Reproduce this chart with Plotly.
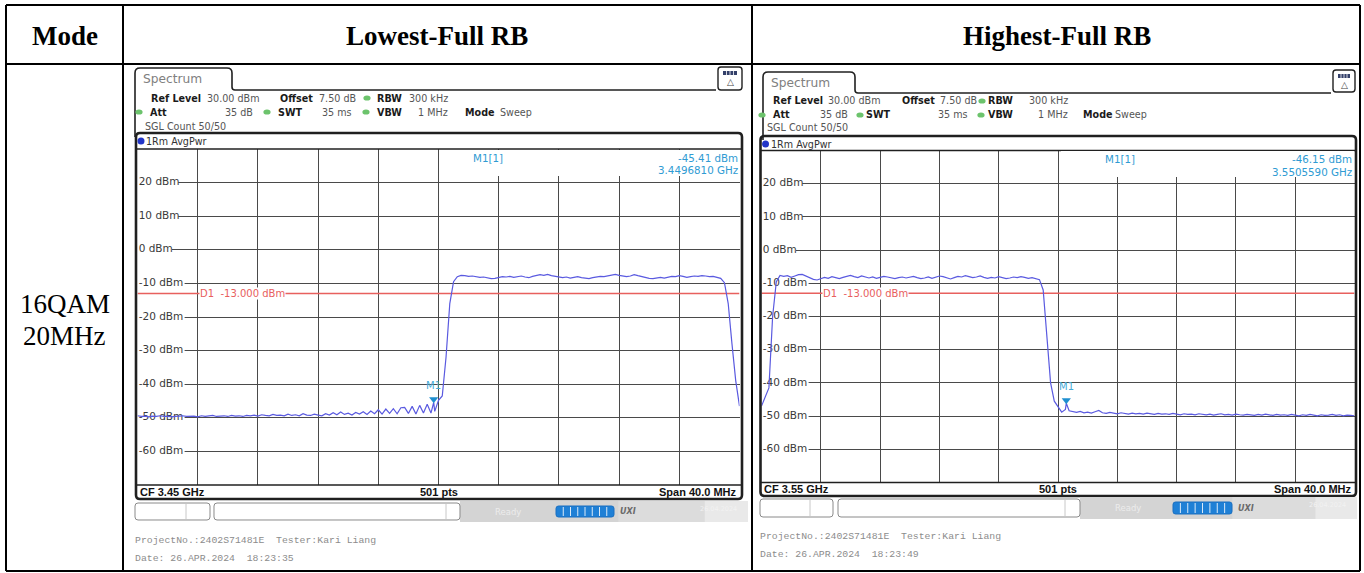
import plotly.graph_objects as go

W, H = 1364, 573

# ---------------- measurement data ----------------
column_titles = ["Mode", "Lowest-Full RB", "Highest-Full RB"]
mode_lines = ["16QAM", "20MHz"]

center_ghz = [3.45, 3.55]
span_mhz = 40.0
sweep_points = 501
ref_level_dbm = 30.0
offset_db = 7.50
att_db = 35
swt_ms = 35
rbw_text = "300 kHz"
vbw_text = "1 MHz"
sweep_count = "50/50"
limit_dbm = -13.0
level_ticks_dbm = [20, 10, 0, -10, -20, -30, -40, -50, -60]

# trace samples every 0.25 MHz across the 40 MHz span (161 bins)
trace_step_mhz = 0.25
lowest_dbm = [
    -49.4, -49.6, -49.5, -49.7, -49.5, -49.6, -49.4, -49.6, -49.5, -49.7,
    -49.6, -49.5, -49.4, -49.6, -49.5, -49.5, -49.7, -49.4, -49.6, -49.5,
    -49.3, -49.6, -49.5, -49.4, -49.6, -49.3, -49.5, -49.4, -49.6, -49.3,
    -49.4, -49.2, -49.5, -49.1, -49.3, -49.4, -49.0, -49.3, -49.2, -49.4,
    -48.9, -49.3, -49.1, -49.4, -48.8, -49.2, -49.3, -48.9, -49.2, -49.4,
    -48.8, -49.2, -48.5, -49.1, -48.3, -49.0, -48.6, -49.2, -48.4, -48.9,
    -48.2, -49.0, -48.0, -48.8, -47.6, -48.9, -47.4, -48.7, -47.3, -48.8,
    -47.0, -46.9, -48.7, -46.6, -48.9, -46.3, -48.6, -46.0, -48.6, -48.1,
    -44.8, -43.5, -32.0, -16.0, -9.5, -8.0,
    -7.6, -7.7, -7.9, -7.8, -8.0, -8.2, -8.1, -8.4, -8.6, -8.5,
    -8.3, -8.0, -8.1, -7.9, -8.2, -8.0, -7.8, -8.1, -8.3, -7.9,
    -7.6, -7.4, -7.6, -7.3, -7.7, -7.9, -8.0, -8.3, -8.1, -8.4,
    -8.2, -8.0, -8.3, -8.5, -8.6, -8.3, -8.1, -7.9, -8.0, -7.7,
    -7.5, -7.3, -7.6, -7.9, -8.0, -7.8, -7.4, -7.7, -8.0, -8.3,
    -8.5, -8.6, -8.4, -8.2, -8.4, -8.1, -7.9, -8.0, -7.7, -7.9,
    -8.2, -8.0, -7.8, -7.9, -7.7, -7.8, -8.0, -7.9, -8.1, -8.5,
    -9.8, -16.0, -28.0, -39.0, -46.5,
]
highest_dbm = [
    -47.0, -44.5, -41.5, -20.0, -9.5,
    -7.6, -7.9, -7.7, -8.2, -7.8, -7.4, -7.3, -7.8, -8.3, -8.8,
    -9.0, -8.6, -8.2, -8.5, -8.0, -8.3, -8.6, -8.2, -7.9, -7.6,
    -8.0, -8.3, -7.8, -8.2, -8.4, -8.1, -8.5, -8.2, -7.9, -8.1,
    -8.4, -8.6, -8.3, -8.1, -8.4, -8.2, -7.9, -8.3, -8.6, -8.4,
    -8.1, -8.5, -8.2, -7.8, -8.0, -8.4, -8.7, -8.3, -7.9, -8.1,
    -7.7, -8.0, -8.3, -8.1, -7.8, -8.2, -8.5, -8.2, -8.4, -8.0,
    -8.3, -8.6, -8.4, -8.1, -8.3, -8.0, -8.2, -8.5, -8.3, -8.6,
    -8.9,
    -12.0, -27.0, -40.0, -45.5, -47.2, -48.8, -48.0, -48.4,
    -48.7, -48.9, -48.6, -49.0, -48.8, -49.1, -48.7, -48.3, -49.0, -49.2,
    -48.9, -49.1, -49.3, -49.0, -49.2, -49.4, -49.1, -49.3, -49.2, -49.4,
    -49.1, -49.3, -49.5, -49.2, -49.4, -49.3, -49.5, -49.2, -49.4, -49.6,
    -49.3, -49.5, -49.4, -49.6, -49.3, -49.5, -49.6, -49.4, -49.7, -49.5,
    -49.3, -49.6, -49.5, -49.7, -49.4, -49.6, -49.7, -49.5, -49.6, -49.8,
    -49.5, -49.7, -49.4, -49.6, -49.8, -49.5, -49.7, -49.6, -49.8, -49.5,
    -49.7, -49.9, -49.6, -49.8, -49.5, -49.7, -49.9, -49.6, -49.8, -49.7,
    -49.5, -49.8, -49.6, -49.9, -49.7, -49.8, -49.9,
]

marker_ghz = [3.4496810, 3.5505590]
marker_dbm = [-45.41, -46.15]

project_text = "ProjectNo.:2402S71481E  Tester:Kari Liang"
date_text = ["Date: 26.APR.2024  18:23:35", "Date: 26.APR.2024  18:23:49"]

# ---------------- styling ----------------
UI = "DejaVu Sans"
SANS = "Liberation Sans"
SERIF = "Liberation Serif"
MONO = "Liberation Mono"
TRACE_C = "#5a5ae0"
GRID_C = "#4a4a4a"
LIMIT_C = "#e8605e"
MARK_C = "#2f9bd3"
FRAME_C = "#202020"
DOT_C = "#6cc36c"

# pixel layout of each analyzer screen
GEO = [
    dict(tab=(135, 68, 232, 90), icon=(718, 67, 742, 90), rows=(98, 112, 126),
         box=(136, 133, 742, 499), grid=(137.5, 149, 739.5, 485), strip_y=141,
         foot_y=492, status=(503, 520), box1=(135, 210, 186), box2=(214, 460, 446),
         band=(460, 748), prog=(556, 614), glyph_x=620, text_x=135, proj_y=540, date_y=558,
         info=(440, 150, 739, 176), info_m1=488, info_r=738, info_y=(158, 170),
         hdr=[("ref_l", 151, 0, "l"), ("ref_v", 207, 0, "l"), ("off_l", 280, 0, "l"),
              ("off_v", 319, 0, "l"), ("dot", 367, 0, ""), ("rbw_l", 377, 0, "l"),
              ("rbw_v", 448, 0, "r"), ("dot", 139, 1, ""), ("att_l", 150, 1, "l"),
              ("att_v", 253, 1, "r"), ("dot", 267, 1, ""), ("swt_l", 278, 1, "l"),
              ("swt_v", 352, 1, "r"), ("dot", 366, 1, ""), ("vbw_l", 377, 1, "l"),
              ("vbw_v", 448, 1, "r"), ("mode_l", 465, 1, "l"), ("mode_v", 500, 1, "l"),
              ("sgl", 145, 2, "l")]),
    dict(tab=(763, 72, 855, 93), icon=(1333, 70, 1355, 92), rows=(101, 115, 128),
         box=(760.5, 136, 1356, 496), grid=(761.5, 150.5, 1354.5, 482.5), strip_y=144,
         foot_y=489, status=(499, 517), box1=(760, 833, 810), box2=(838, 1080, 1065),
         band=(1080, 1357), prog=(1173, 1232), glyph_x=1238, text_x=760, proj_y=536, date_y=554,
         info=(1061, 151, 1354, 177), info_m1=1120, info_r=1352, info_y=(159, 172),
         hdr=[("ref_l", 773, 0, "l"), ("ref_v", 828, 0, "l"), ("off_l", 902, 0, "l"),
              ("off_v", 940, 0, "l"), ("dot", 982, 0, ""), ("rbw_l", 988, 0, "l"),
              ("rbw_v", 1068, 0, "r"), ("dot", 762, 1, ""), ("att_l", 773, 1, "l"),
              ("att_v", 848, 1, "r"), ("dot", 860, 1, ""), ("swt_l", 866, 1, "l"),
              ("swt_v", 968, 1, "r"), ("dot", 981, 1, ""), ("vbw_l", 988, 1, "l"),
              ("vbw_v", 1068, 1, "r"), ("mode_l", 1083, 1, "l"), ("mode_v", 1115, 1, "l"),
              ("sgl", 767, 2, "l")]),
]

SETTINGS = {
    "ref_l": ("Ref Level", True), "ref_v": (f"{ref_level_dbm:.2f} dBm", False),
    "off_l": ("Offset", True), "off_v": (f"{offset_db:.2f} dB", False),
    "rbw_l": ("RBW", True), "rbw_v": (rbw_text, False),
    "att_l": ("Att", True), "att_v": (f"{att_db} dB", False),
    "swt_l": ("SWT", True), "swt_v": (f"{swt_ms} ms", False),
    "vbw_l": ("VBW", True), "vbw_v": (vbw_text, False),
    "mode_l": ("Mode", True), "mode_v": ("Sweep", False),
    "sgl": (f"SGL Count {sweep_count}", False),
}

shapes, annos = [], []


def px(x):
    return x / W


def py(y):
    return 1 - y / H


def P(x, y):
    return f"{px(x):.6f},{py(y):.6f}"


def rect(x0, y0, x1, y1, fill=None, line=None, lw=1.0):
    shapes.append(dict(type="rect", xref="paper", yref="paper",
                       x0=px(x0), x1=px(x1), y0=py(y1), y1=py(y0),
                       fillcolor=fill or "rgba(0,0,0,0)",
                       line=dict(color=line or "rgba(0,0,0,0)", width=lw if line else 0),
                       layer="above"))


def seg(x0, y0, x1, y1, color, w):
    shapes.append(dict(type="line", xref="paper", yref="paper",
                       x0=px(x0), x1=px(x1), y0=py(y0), y1=py(y1),
                       line=dict(color=color, width=w), layer="above"))


def ellipse(cx, cy, rx, ry, color):
    shapes.append(dict(type="circle", xref="paper", yref="paper",
                       x0=px(cx - rx), x1=px(cx + rx), y0=py(cy + ry), y1=py(cy - ry),
                       fillcolor=color, line=dict(width=0), layer="above"))


def rrect(x0, y0, x1, y1, r, color, w, fill=None):
    d = (f"M {P(x0 + r, y0)} L {P(x1 - r, y0)} Q {P(x1, y0)} {P(x1, y0 + r)} "
         f"L {P(x1, y1 - r)} Q {P(x1, y1)} {P(x1 - r, y1)} L {P(x0 + r, y1)} "
         f"Q {P(x0, y1)} {P(x0, y1 - r)} L {P(x0, y0 + r)} Q {P(x0, y0)} {P(x0 + r, y0)} Z")
    shapes.append(dict(type="path", xref="paper", yref="paper", path=d,
                       line=dict(color=color, width=w),
                       fillcolor=fill or "rgba(0,0,0,0)", layer="above"))


def text(x, y, s, size=9.5, color="#333", family=UI, anchor="left", bold=False, bg=None, italic=False):
    s = s.replace("  ", " \u00a0")
    if bold:
        s = f"<b>{s}</b>"
    if italic:
        s = f"<i>{s}</i>"
    a = dict(xref="paper", yref="paper", x=px(x), y=py(y), text=s, showarrow=False,
             xanchor=anchor, yanchor="middle", borderpad=0, borderwidth=0,
             font=dict(family=family, size=size, color=color))
    if bg:
        a["bgcolor"] = bg
    annos.append(a)


# ---------------- table frame ----------------
T_L, T_R, T_T, T_H, T_B, C1, C2 = 6, 1360, 5, 64, 571, 123, 752
for yy in (T_T, T_H, T_B):
    seg(T_L, yy, T_R, yy, "#000", 2)
for xx in (T_L, C1, C2, T_R):
    seg(xx, T_T, xx, T_B, "#000", 2)

text(64.5, 36, column_titles[0], size=27, color="#000", family=SERIF, anchor="center", bold=True)
text(437, 36, column_titles[1], size=27, color="#000", family=SERIF, anchor="center", bold=True)
text(1057, 36, column_titles[2], size=27, color="#000", family=SERIF, anchor="center", bold=True)
text(64.5, 304, mode_lines[0], size=27, color="#000", family=SERIF, anchor="center")
text(64.5, 336, mode_lines[1], size=27, color="#000", family=SERIF, anchor="center")


def sweep(center, levels, mk_f, mk_l):
    start = center - span_mhz / 2000.0
    xs = [start + i * trace_step_mhz / 1000.0 for i in range(len(levels))]
    ys = list(levels)
    # splice the marker reading into the sweep so the trace runs through it
    k = next(i for i, f in enumerate(xs) if f > mk_f)
    xs.insert(k, mk_f)
    ys.insert(k, mk_l)
    return xs, ys


fig = go.Figure()
series = [lowest_dbm, highest_dbm]
layout_axes = {}

for n, g in enumerate(GEO):
    xa = "x" if n == 0 else "x2"
    ya = "y" if n == 0 else "y2"
    xkey = "xaxis" if n == 0 else "xaxis2"
    ykey = "yaxis" if n == 0 else "yaxis2"
    cf = center_ghz[n]
    f0, f1 = cf - span_mhz / 2000.0, cf + span_mhz / 2000.0
    gx0, gy0, gx1, gy1 = g["grid"]
    gw = gx1 - gx0
    ghz_per_px = (f1 - f0) / gw

    layout_axes[xkey] = dict(domain=[px(gx0), px(gx1)], range=[f0, f1], tick0=f0,
                             dtick=span_mhz / 10000.0, showgrid=True, gridcolor=GRID_C,
                             gridwidth=1.2, zeroline=False, showticklabels=False,
                             ticks="", showline=False, anchor=ya, fixedrange=True)
    layout_axes[ykey] = dict(domain=[py(gy1), py(gy0)], range=[ref_level_dbm - 100, ref_level_dbm],
                             tick0=ref_level_dbm - 100, dtick=10, showgrid=True, gridcolor=GRID_C,
                             gridwidth=1.2, zeroline=False, showticklabels=False,
                             ticks="", showline=False, anchor=xa, fixedrange=True)

    # white patches behind the level labels, drawn under the trace
    bx, by = [], []
    for v in level_ticks_dbm:
        wpx = len(f"{v} dBm") * 6.3 + 3
        xr = f0 + wpx * ghz_per_px
        bx += [f0, xr, xr, f0, f0, None]
        by += [v - 1.7, v - 1.7, v + 1.7, v + 1.7, v - 1.7, None]
    fig.add_trace(go.Scatter(x=bx, y=by, mode="lines", fill="toself", fillcolor="white",
                             line=dict(width=0, color="white"), xaxis=xa, yaxis=ya,
                             hoverinfo="skip", showlegend=False))
    fig.add_trace(go.Scatter(x=[f0 + 0.00008] * len(level_ticks_dbm), y=level_ticks_dbm,
                             text=[f"{v} dBm" for v in level_ticks_dbm], mode="text",
                             textposition="middle right", xaxis=xa, yaxis=ya,
                             textfont=dict(family=UI, size=10.5, color="#3a3a3a"),
                             hoverinfo="skip", showlegend=False))

    # display line D1
    fig.add_trace(go.Scatter(x=[f0, f1], y=[limit_dbm, limit_dbm], mode="lines",
                             line=dict(color=LIMIT_C, width=1.3), xaxis=xa, yaxis=ya,
                             hoverinfo="skip", showlegend=False))
    annos.append(dict(xref=xa, yref=ya, x=f0 + (f1 - f0) * 0.1, y=limit_dbm, xshift=1,
                      text=f"D1 \u00a0{limit_dbm:.3f} dBm", showarrow=False, xanchor="left",
                      yanchor="middle", bgcolor="white", borderpad=0,
                      font=dict(family=UI, size=10, color=LIMIT_C)))

    xs, ys = sweep(cf, series[n], marker_ghz[n], marker_dbm[n])
    fig.add_trace(go.Scatter(x=xs, y=ys, mode="lines", xaxis=xa, yaxis=ya,
                             line=dict(color=TRACE_C, width=1.2), hoverinfo="skip",
                             showlegend=False))

    # marker M1
    fig.add_trace(go.Scatter(x=[marker_ghz[n]], y=[marker_dbm[n] + 0.9], mode="markers",
                             xaxis=xa, yaxis=ya, hoverinfo="skip", showlegend=False,
                             marker=dict(symbol="triangle-down", size=8, color="#1f8fd0")))
    annos.append(dict(xref=xa, yref=ya, x=marker_ghz[n], y=marker_dbm[n], yshift=9,
                      text="M1", showarrow=False, xanchor="center", yanchor="bottom",
                      font=dict(family=UI, size=10, color="#45aad8")))

    # ---- screen chrome ----
    tl, tt, tr, hl = g["tab"]
    il, it, ir, ib = g["icon"]
    r = 5
    d = (f"M {P(tl, hl)} L {P(tl, tt + r)} Q {P(tl, tt)} {P(tl + r, tt)} L {P(tr - r, tt)} "
         f"Q {P(tr, tt)} {P(tr, tt + r)} L {P(tr, hl - 3)} Q {P(tr, hl)} {P(tr + 3, hl)} L {P(il - 2, hl)}")
    shapes.append(dict(type="path", xref="paper", yref="paper", path=d,
                       line=dict(color=FRAME_C, width=1.6), layer="above"))
    bx0, by0, bx1, by1 = g["box"]
    seg(tl, hl, tl, by0 + 4, FRAME_C, 1.6)
    text(tl + 8, tt + 11, "Spectrum", size=12.2, color="#808080")

    rrect(il, it, ir, ib, 3, FRAME_C, 1.4, fill="white")
    rect(il + 5, it + 4, ir - 5, it + 8, fill="#34406a")
    for k in range(1, 4):
        xk = il + 5 + k * (ir - il - 10) / 4
        seg(xk, it + 4, xk, it + 8, "white", 0.8)
    text((il + ir) / 2, it + 15, "\u25b3", size=9, color="#444", anchor="center")

    for key, x, row, anc in g["hdr"]:
        yy = g["rows"][row]
        if key == "dot":
            ellipse(x, yy, 3.6, 2.6, DOT_C)
            continue
        s, b = SETTINGS[key]
        text(x, yy, s, size=9.6, color="#1a1a1a" if b else "#555",
             anchor="left" if anc == "l" else "right", bold=b)

    # plot frame
    rrect(bx0, by0, bx1, by1, 4, FRAME_C, 2.6)
    seg(bx0, gy0, bx1, gy0, FRAME_C, 1.4)
    seg(bx0, gy1, bx1, gy1, FRAME_C, 1.4)
    ellipse(bx0 + 5, g["strip_y"], 3.5, 3.5, "#2235c8")
    text(bx0 + 10, g["strip_y"], "1Rm AvgPwr", size=9.6, color="#333")

    # marker readout
    ix0, iy0, ix1, iy1 = g["info"]
    rect(ix0, iy0, ix1, iy1, fill="white")
    text(g["info_m1"], g["info_y"][0], "M1[1]", size=10.3, color=MARK_C, anchor="center")
    text(g["info_r"], g["info_y"][0], f"{marker_dbm[n]:.2f} dBm", size=10.3, color=MARK_C, anchor="right")
    text(g["info_r"], g["info_y"][1], f"{marker_ghz[n]:.7f} GHz", size=10.3, color=MARK_C, anchor="right")

    # footer of the diagram
    text(gx0 + 2.5, g["foot_y"], f"CF {cf:.2f} GHz", size=11, color="#111", family=SANS, bold=True)
    text((gx0 + gx1) / 2, g["foot_y"], f"{sweep_points} pts", size=11, color="#111", family=SANS,
         bold=True, anchor="center")
    text(gx1 - 3, g["foot_y"], f"Span {span_mhz:.1f} MHz", size=11, color="#111", family=SANS,
         bold=True, anchor="right")

    # status line
    sy0, sy1 = g["status"]
    b1x0, b1x1, b1d = g["box1"]
    b2x0, b2x1, b2d = g["box2"]
    bd0, bd1 = g["band"]
    rect(bd0, sy0 - 2, bd1, sy1 + 2, fill="#d4d4d4")
    rect(bd0 + (bd1 - bd0) * 0.55, sy0 - 2, bd1, sy1 + 2, fill="#dcdcdc")
    rect(bd0 + (bd1 - bd0) * 0.85, sy0 - 2, bd1, sy1 + 2, fill="#e9e9e9")
    rrect(b1x0, sy0, b1x1, sy1, 3, "#8a8a8a", 1, fill="white")
    seg(b1d, sy0 + 1, b1d, sy1 - 1, "#c8c8c8", 1)
    rrect(b2x0, sy0, b2x1, sy1, 3, "#8a8a8a", 1, fill="white")
    seg(b2d, sy0 + 1, b2d, sy1 - 1, "#c8c8c8", 1)
    text(bd0 + 35, (sy0 + sy1) / 2, "Ready", size=8.5, color="#ececec")
    p0, p1 = g["prog"]
    rrect(p0, sy0 + 3, p1, sy1 - 3, 2.5, "#1a6fc0", 1, fill="#1f80d6")
    for k in range(1, 8):
        xk = p0 + k * (p1 - p0) / 8
        seg(xk, sy0 + 4, xk, sy1 - 4, "#dbe9f7", 1)
    text(g["glyph_x"], (sy0 + sy1) / 2, "UXI", size=8, color="#6a6a6a", bold=True, italic=True)
    text(bd1 - 30, (sy0 + sy1) / 2 - 3, "26.04.2024", size=6.5, color="#f2f2f2", anchor="center")

    text(g["text_x"], g["proj_y"], project_text, size=9.8, color="#8c8c8c", family=MONO)
    text(g["text_x"], g["date_y"], date_text[n], size=9.8, color="#8c8c8c", family=MONO)

fig.update_layout(width=W, height=H, margin=dict(l=0, r=0, t=0, b=0),
                  paper_bgcolor="white", plot_bgcolor="rgba(0,0,0,0)",
                  showlegend=False, shapes=shapes, annotations=annos, **layout_axes)

fig.write_html("out.html")
